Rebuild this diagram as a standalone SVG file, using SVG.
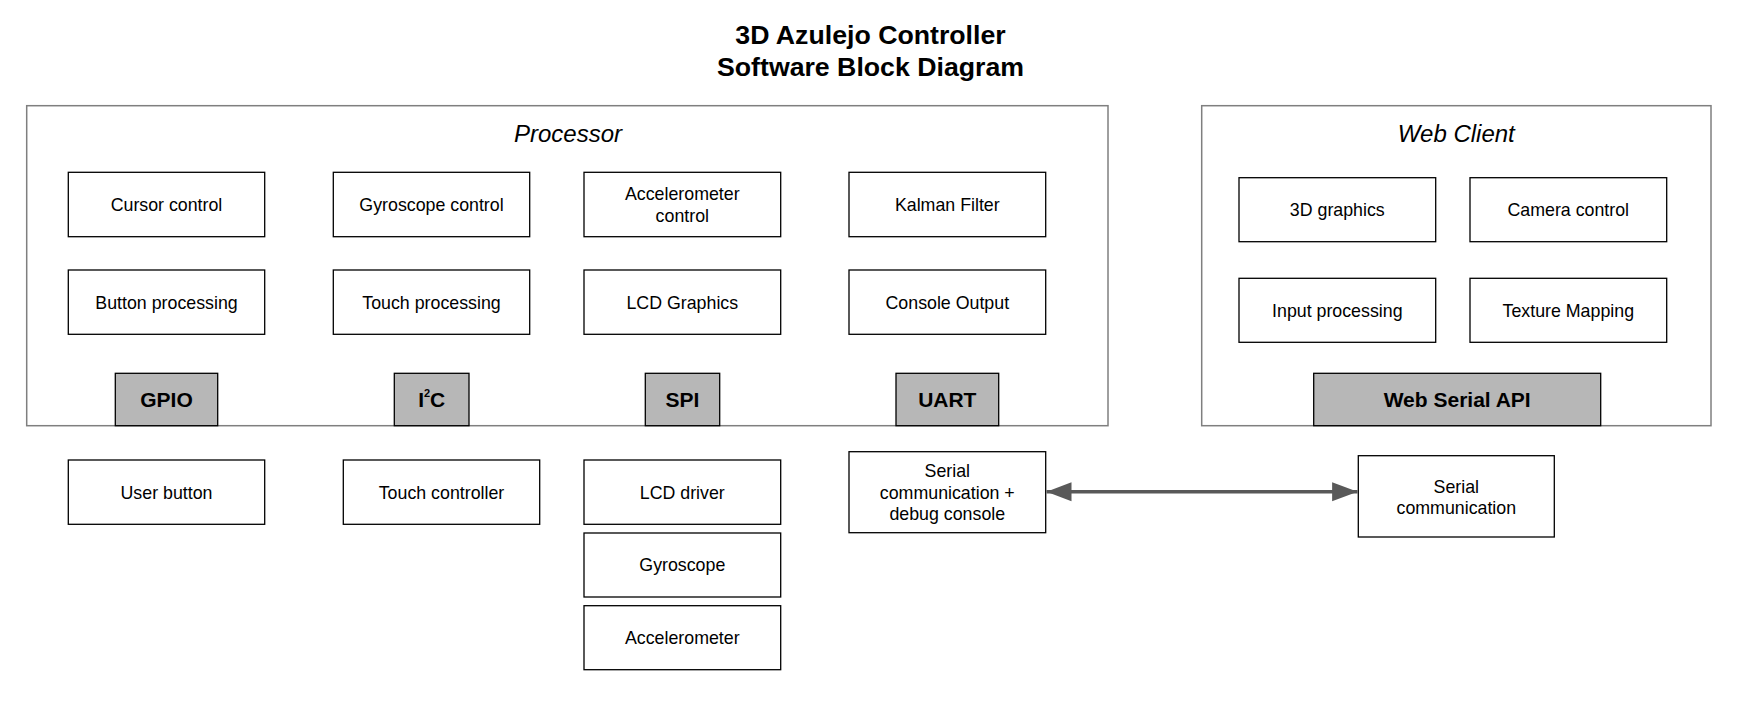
<svg xmlns="http://www.w3.org/2000/svg" width="1754" height="716" viewBox="0 0 1754 716">
  <style>
    text { font-family: "Liberation Sans", Arial, sans-serif; fill: #000; text-anchor: middle; }
    .title { font-size: 26.7px; font-weight: bold; }
    .group { fill: #fff; stroke: #7f7f7f; stroke-width: 1.5; }
    .glabel { font-size: 24px; font-style: italic; }
    .box { fill: #fff; stroke: #000; stroke-width: 1.3; }
    .btxt { font-size: 17.8px; }
    .iface { fill: #b7b7b7; stroke: #000; stroke-width: 1.3; }
    .itxt { font-size: 21px; font-weight: bold; }
    .conn { stroke: #595959; stroke-width: 3.5; fill: none; }
  </style>
  <defs>
    <marker id="arrowEnd" markerUnits="userSpaceOnUse" markerWidth="26" markerHeight="20" refX="25.5" refY="9.5" orient="auto">
      <path d="M0,0 L25.5,9.5 L0,19 Z" fill="#595959"/>
    </marker>
    <marker id="arrowStart" markerUnits="userSpaceOnUse" markerWidth="26" markerHeight="20" refX="0.5" refY="9.5" orient="auto">
      <path d="M25.5,0 L0.5,9.5 L25.5,19 Z" fill="#595959"/>
    </marker>
  </defs>
  <rect width="1754" height="716" fill="#fff"/>

  <g id="title">
    <text class="title" x="870.5" y="44.3">3D Azulejo Controller</text>
    <text class="title" x="870.5" y="75.7">Software Block Diagram</text>
  </g>

  <g id="processor">
    <rect class="group" x="26.7" y="105.7" width="1081.3" height="320"/>
    <text class="glabel" x="568" y="142">Processor</text>
  </g>

  <g id="web-client">
    <rect class="group" x="1201.7" y="105.7" width="509.3" height="320"/>
    <text class="glabel" x="1456.3" y="142">Web Client</text>
  </g>

  <g id="cursor-control">
    <rect class="box" x="68.3" y="172.3" width="196.4" height="64.4"/>
    <text class="btxt" x="166.5" y="210.9">Cursor control</text>
  </g>
  <g id="gyroscope-control">
    <rect class="box" x="333.3" y="172.3" width="196.4" height="64.4"/>
    <text class="btxt" x="431.5" y="210.9">Gyroscope control</text>
  </g>
  <g id="accelerometer-control">
    <rect class="box" x="584" y="172.3" width="196.7" height="64.4"/>
    <text class="btxt" x="682.3" y="200.4">Accelerometer</text>
    <text class="btxt" x="682.3" y="222">control</text>
  </g>
  <g id="kalman-filter">
    <rect class="box" x="849" y="172.3" width="196.7" height="64.4"/>
    <text class="btxt" x="947.3" y="210.9">Kalman Filter</text>
  </g>

  <g id="button-processing">
    <rect class="box" x="68.3" y="270" width="196.4" height="64.3"/>
    <text class="btxt" x="166.5" y="308.6">Button processing</text>
  </g>
  <g id="touch-processing">
    <rect class="box" x="333.3" y="270" width="196.4" height="64.3"/>
    <text class="btxt" x="431.5" y="308.6">Touch processing</text>
  </g>
  <g id="lcd-graphics">
    <rect class="box" x="584" y="270" width="196.7" height="64.3"/>
    <text class="btxt" x="682.3" y="308.6">LCD Graphics</text>
  </g>
  <g id="console-output">
    <rect class="box" x="849" y="270" width="196.7" height="64.3"/>
    <text class="btxt" x="947.3" y="308.6">Console Output</text>
  </g>

  <g id="gpio">
    <rect class="iface" x="115.3" y="373.3" width="102.4" height="52.4"/>
    <text class="itxt" x="166.5" y="407">GPIO</text>
  </g>
  <g id="i2c">
    <rect class="iface" x="394.3" y="373.3" width="74.7" height="52.4"/>
    <text class="itxt" x="431.7" y="407">I<tspan font-size="11px" dy="-10.5">2</tspan><tspan dy="10.5">C</tspan></text>
  </g>
  <g id="spi">
    <rect class="iface" x="645.3" y="373.3" width="74.4" height="52.4"/>
    <text class="itxt" x="682.5" y="407">SPI</text>
  </g>
  <g id="uart">
    <rect class="iface" x="896" y="373.3" width="102.7" height="52.4"/>
    <text class="itxt" x="947.3" y="407">UART</text>
  </g>

  <g id="3d-graphics">
    <rect class="box" x="1239" y="177.7" width="196.7" height="64"/>
    <text class="btxt" x="1337.3" y="216.1">3D graphics</text>
  </g>
  <g id="camera-control">
    <rect class="box" x="1470" y="177.7" width="196.7" height="64"/>
    <text class="btxt" x="1568.3" y="216.1">Camera control</text>
  </g>
  <g id="input-processing">
    <rect class="box" x="1239" y="278.3" width="196.7" height="64"/>
    <text class="btxt" x="1337.3" y="316.7">Input processing</text>
  </g>
  <g id="texture-mapping">
    <rect class="box" x="1470" y="278.3" width="196.7" height="64"/>
    <text class="btxt" x="1568.3" y="316.7">Texture Mapping</text>
  </g>
  <g id="web-serial-api">
    <rect class="iface" x="1313.7" y="373.3" width="287" height="52.4"/>
    <text class="itxt" x="1457.2" y="407">Web Serial API</text>
  </g>

  <g id="user-button">
    <rect class="box" x="68.3" y="460" width="196.4" height="64.3"/>
    <text class="btxt" x="166.5" y="498.6">User button</text>
  </g>
  <g id="touch-controller">
    <rect class="box" x="343.3" y="460" width="196.4" height="64.3"/>
    <text class="btxt" x="441.5" y="498.6">Touch controller</text>
  </g>
  <g id="lcd-driver">
    <rect class="box" x="584" y="460" width="196.7" height="64.3"/>
    <text class="btxt" x="682.3" y="498.6">LCD driver</text>
  </g>
  <g id="gyroscope">
    <rect class="box" x="584" y="533" width="196.7" height="64"/>
    <text class="btxt" x="682.3" y="571.4">Gyroscope</text>
  </g>
  <g id="accelerometer">
    <rect class="box" x="584" y="605.7" width="196.7" height="64"/>
    <text class="btxt" x="682.3" y="644.1">Accelerometer</text>
  </g>
  <g id="serial-debug">
    <rect class="box" x="849" y="451.7" width="196.7" height="81"/>
    <text class="btxt" x="947.3" y="477.3">Serial</text>
    <text class="btxt" x="947.3" y="498.7">communication +</text>
    <text class="btxt" x="947.3" y="520.1">debug console</text>
  </g>
  <g id="serial-communication">
    <rect class="box" x="1358.3" y="455.7" width="196" height="81.3"/>
    <text class="btxt" x="1456.3" y="492.7">Serial</text>
    <text class="btxt" x="1456.3" y="514.2">communication</text>
  </g>

  <g id="connectors">
    <line class="conn" x1="1046.5" y1="491.8" x2="1357.6" y2="491.8" marker-start="url(#arrowStart)" marker-end="url(#arrowEnd)"/>
  </g>
</svg>
